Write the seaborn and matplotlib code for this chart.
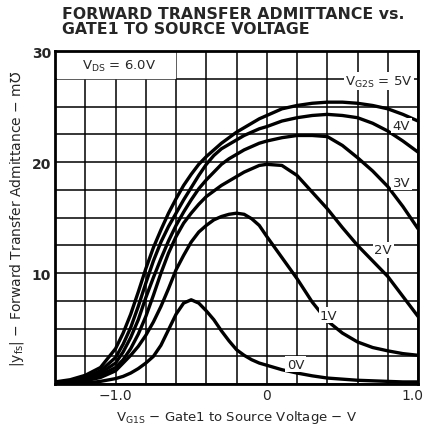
import numpy as np
import pandas as pd
import matplotlib
matplotlib.use("Agg")
import matplotlib.pyplot as plt
import matplotlib.transforms as mtransforms
import seaborn as sns

# Gate1 voltage points (V) shared by all curves
vg1s = [-1.4, -1.3, -1.2, -1.1, -1.0, -0.95, -0.9, -0.85, -0.8, -0.75, -0.7,
        -0.65, -0.6, -0.55, -0.5, -0.45, -0.4, -0.35, -0.3, -0.25, -0.2,
        -0.15, -0.1, -0.05, 0.0, 0.1, 0.2, 0.3, 0.4, 0.5, 0.6, 0.7, 0.8,
        0.9, 1.0]

# |yfs| in mmho for each VG2S
yfs_5v = [0.2, 0.4, 0.8, 1.5, 3.2, 4.6, 6.3, 8.3, 10.4, 12.3, 13.9, 15.4, 16.7,
          17.9, 18.9, 19.8, 20.5, 21.1, 21.7, 22.2, 22.7, 23.1, 23.5, 23.9,
          24.2, 24.8, 25.1, 25.3, 25.4, 25.4, 25.3, 25.1, 24.8, 24.3, 23.7]
yfs_4v = [0.15, 0.3, 0.6, 1.2, 2.4, 3.6, 5.1, 7.0, 9.1, 11.1, 12.8, 14.2, 15.4,
          16.6, 17.7, 18.8, 19.8, 20.6, 21.2, 21.6, 22.0, 22.4, 22.7, 23.0,
          23.2, 23.7, 24.0, 24.2, 24.3, 24.2, 24.0, 23.5, 22.8, 21.9, 20.9]
yfs_3v = [0.1, 0.25, 0.5, 1.0, 1.9, 2.9, 4.2, 5.8, 7.8, 9.6, 11.3, 12.9, 14.3,
          15.5, 16.6, 17.6, 18.4, 19.1, 19.8, 20.3, 20.7, 21.1, 21.4, 21.7,
          21.9, 22.2, 22.4, 22.4, 22.3, 21.5, 20.4, 19.2, 17.8, 16.0, 14.0]
yfs_2v = [0.1, 0.2, 0.4, 0.8, 1.5, 2.2, 3.2, 4.5, 6.1, 8.0, 10.0, 11.8, 13.3,
          14.5, 15.4, 16.2, 16.9, 17.4, 17.9, 18.3, 18.7, 19.1, 19.4, 19.7,
          19.8, 19.7, 18.8, 17.3, 15.8, 14.1, 12.5, 11.1, 9.7, 7.9, 6.1]
yfs_1v = [0.05, 0.15, 0.3, 0.6, 1.2, 1.9, 2.6, 3.4, 4.4, 5.6, 7.0, 8.6, 10.3,
          11.6, 12.8, 13.7, 14.3, 14.8, 15.1, 15.3, 15.4, 15.3, 14.9, 14.3,
          13.3, 11.4, 9.5, 7.4, 5.7, 4.6, 3.8, 3.3, 3.0, 2.75, 2.6]
yfs_0v = [0.05, 0.05, 0.1, 0.25, 0.5, 0.7, 1.0, 1.4, 1.9, 2.5, 3.5, 4.9, 6.3,
          7.3, 7.6, 7.3, 6.6, 5.8, 4.8, 3.9, 3.1, 2.6, 2.2, 1.9, 1.7, 1.3,
          1.0, 0.75, 0.55, 0.45, 0.35, 0.3, 0.25, 0.2, 0.2]

curve_names = ["5V", "4V", "3V", "2V", "1V", "0V"]
curve_values = [yfs_5v, yfs_4v, yfs_3v, yfs_2v, yfs_1v, yfs_0v]

x_ticklabels = ["\u22121.0", "0", "1.0"]
y_ticklabels = ["10", "20", "30"]

frames = []
for name, vals in zip(curve_names, curve_values):
    frames.append(pd.DataFrame({"vg1s": vg1s, "yfs": vals, "vg2s": name}))
df = pd.concat(frames, ignore_index=True)

sns.set_style("white")
plt.rcParams["font.family"] = ["DejaVu Sans"]

fig = plt.figure(figsize=(4.27, 4.27), dpi=100)
ax = fig.add_axes([0.129, 0.098, 0.850, 0.780])

# grid: 0.2 V by 2.5 mmho
xg = np.round(np.arange(-1.4, 1.0001, 0.2), 2)
yg = np.arange(0, 30.001, 2.5)
ax.set_xticks(xg)
ax.set_yticks(yg)
ax.set_xticklabels([x_ticklabels[[-1.0, 0.0, 1.0].index(v)] if v in (-1.0, 0.0, 1.0) else "" for v in xg])
ax.set_yticklabels([y_ticklabels[[10, 20, 30].index(v)] if v in (10, 20, 30) else "" for v in yg])
ax.grid(True, color="black", linewidth=1.1)
ax.set_axisbelow(True)
ax.tick_params(length=0, labelsize=10, pad=3)
for lab in ax.get_yticklabels():
    lab.set_fontweight("bold")
# the last x label sits against the right edge
last = ax.get_xticklabels()[-1]
last.set_transform(last.get_transform() + mtransforms.ScaledTranslation(-6 / 100, 0, fig.dpi_scale_trans))

sns.lineplot(data=df, x="vg1s", y="yfs", hue="vg2s", units="vg2s",
             estimator=None, palette=["black"] * 6, legend=False,
             linewidth=2.4, ax=ax)

ax.set_xlim(-1.4, 1.0)
ax.set_ylim(0, 30)
for s in ax.spines.values():
    s.set_visible(True)
    s.set_color("black")
    s.set_linewidth(2.0)

# V_DS box in the top-left row
ax.axvspan(-1.39, -0.61, ymin=27.6 / 30, ymax=29.9 / 30, color="white", zorder=1.5)
ax.text(-1.22, 28.75, r"V$_{\mathregular{DS}}$ = 6.0V", fontsize=9.5, va="center", ha="left")

bbox = dict(facecolor="white", edgecolor="none", pad=1.0)
ax.text(0.74, 27.3, r"V$_{\mathregular{G2S}}$ = 5V", fontsize=9.5, va="center", ha="center", bbox=bbox)
ax.text(0.89, 23.3, "4V", fontsize=9.5, va="center", ha="center", bbox=bbox)
ax.text(0.89, 18.2, "3V", fontsize=9.5, va="center", ha="center", bbox=bbox)
ax.text(0.77, 12.1, "2V", fontsize=9.5, va="center", ha="center", bbox=bbox)
ax.text(0.41, 6.2, "1V", fontsize=9.5, va="center", ha="center", bbox=bbox)
ax.text(0.19, 1.8, "0V", fontsize=9.5, va="center", ha="center", bbox=bbox)

ax.set_xlabel(r"V$_{\mathregular{G1S}}$ $-$ Gate1 to Source Voltage $-$ V", fontsize=9.5, labelpad=4)
ax.set_ylabel("|y$_{\\mathregular{fs}}$| $-$ Forward Transfer Admittance $-$ m\u2127", fontsize=10, labelpad=4)

fig.text(0.145, 0.965, "FORWARD TRANSFER ADMITTANCE vs.", fontsize=11.3, fontweight="bold", ha="left", va="center")
fig.text(0.145, 0.930, "GATE1 TO SOURCE VOLTAGE", fontsize=11.3, fontweight="bold", ha="left", va="center")

fig.savefig("out.png", dpi=100)
